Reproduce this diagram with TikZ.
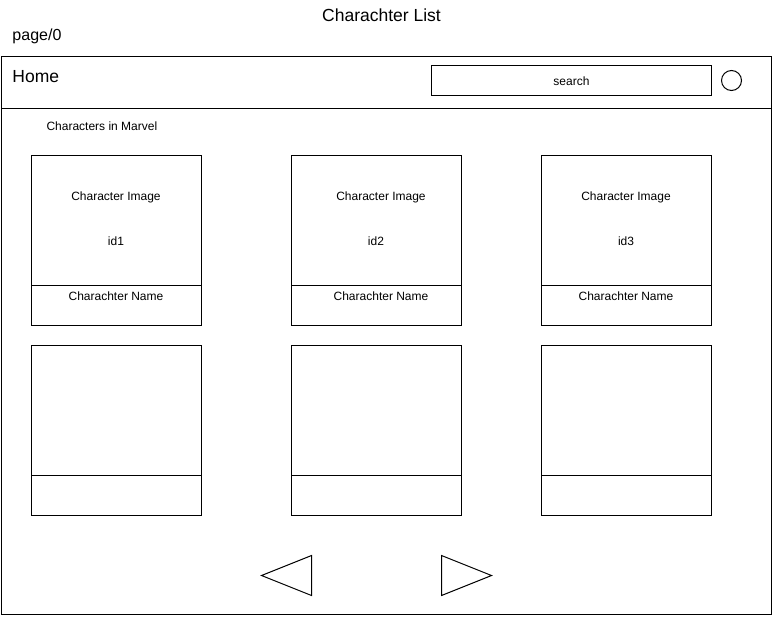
\documentclass[tikz,border=0pt]{standalone}
\usepackage{fontspec}
\setmainfont{Liberation Sans}
\begin{document}
\begin{tikzpicture}[x=1pt,y=-1pt,line width=1pt,
  big/.style={font=\fontsize{17.5}{20}\selectfont,inner sep=0pt,anchor=base},
  med/.style={font=\fontsize{16}{19}\selectfont,inner sep=0pt,anchor=base west},
  small/.style={font=\fontsize{12}{14}\selectfont,inner sep=0pt,anchor=base},
  box/.style={draw,inner sep=0pt}]
\useasboundingbox (0,0) rectangle (773,616);
\fill[white] (0,0) rectangle (773,616);
% title
\node[big] (title) at (381.5,21) {Charachter List};
\node[med] (page) at (12,40.5) {page/0};
% frame
\draw (1,56) rectangle (771,614);
\coordinate (hl) at (1,108);
\coordinate (hr) at (771,108);
\draw (hl) -- (hr);
\node[big,anchor=base west] (home) at (12,82) {Home};
\draw (431.5,65.5) rectangle (711.5,95.5);
\node[small] (search) at (571.5,85) {search};
\draw (731.5,80.5) circle (10);
\node[small,anchor=base west] (cim) at (46,130) {Characters in Marvel};
% cards
\foreach \x/\n/\o in {31/1/0,291/2/5,541/3/0}{
  \draw (\x+0.5,155.5) rectangle (\x+170.5,325.5);
  \draw (\x+0.5,285.5) -- (\x+170.5,285.5);
  \node[small] at (\x+85+\o,200) {Character Image};
  \node[small] at (\x+85,245) {id\n};
  \node[small] at (\x+85+\o,300) {Charachter Name};
  \draw (\x+0.5,345.5) rectangle (\x+170.5,515.5);
  \draw (\x+0.5,475.5) -- (\x+170.5,475.5);
}
% arrows
\draw[line join=miter] (261.5,575.5) -- (311.5,555.5) -- (311.5,595.5) -- cycle;
\draw[line join=miter] (441.5,555.5) -- (491.5,575.5) -- (441.5,595.5) -- cycle;
\end{tikzpicture}
\end{document}
